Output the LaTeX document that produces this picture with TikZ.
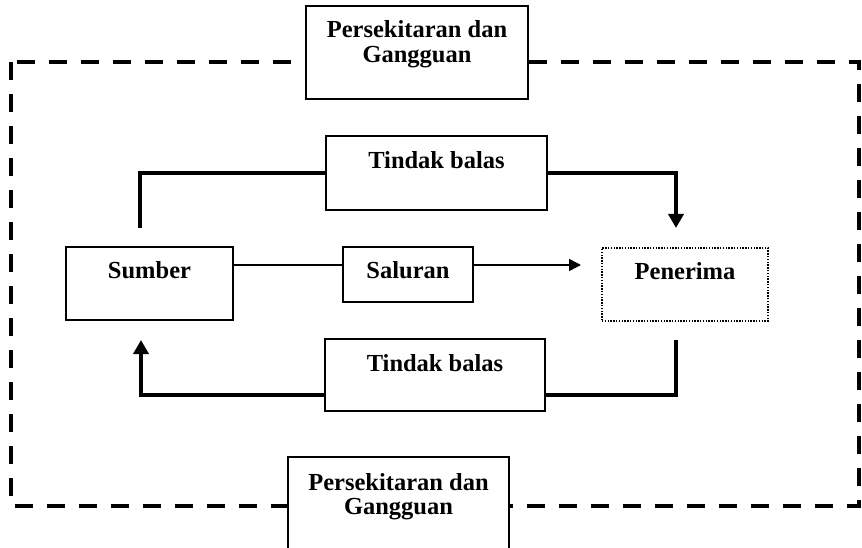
\documentclass[tikz,border=0pt]{standalone}
\usepackage{fontspec}
\setmainfont{Liberation Serif}
\usetikzlibrary{arrows.meta}
\begin{document}
\begin{tikzpicture}[x=1pt,y=-1pt,
  box/.style={draw=black,line width=1.4pt,fill=white,rectangle,inner sep=0pt},
  dotbox/.style={draw=black,line width=1.2pt,dash pattern=on 1.4pt off 1.4pt,fill=white,rectangle,inner sep=0pt},
  lbl/.style={anchor=base,inner sep=0pt,font=\fontsize{24.5}{27}\selectfont\bfseries},
  thickline/.style={line width=4pt,line join=miter},
  thinline/.style={line width=1.6pt},
  bigtip/.style={-{Triangle[length=14pt,width=15pt]}},
  smalltip/.style={-{Triangle[length=12pt,width=12pt]}},
  envline/.style={line width=4pt,dash pattern=on 18pt off 14pt}]
\useasboundingbox (0,0) rectangle (862,548);
% dashed environment boundary
\draw[envline] (11,62) rectangle (859,506);
% boxes
\node[box,minimum width=222pt,minimum height=93pt] (envtop) at (417,52.5) {};
\node[box,minimum width=221pt,minimum height=100pt] (envbot) at (398.5,507) {};
\node[box,minimum width=221pt,minimum height=74pt] (tb1) at (436.5,173) {};
\node[box,minimum width=220pt,minimum height=72pt] (tb2) at (435,375) {};
\node[box,minimum width=167pt,minimum height=73pt] (src) at (149.5,283.5) {};
\node[box,minimum width=130pt,minimum height=55pt] (chan) at (408,274.5) {};
\node[dotbox,minimum width=166pt,minimum height=73pt] (rcv) at (685,284.5) {};
% texts
\node[lbl] (envtopa) at (417,38) {Persekitaran dan};
\node[lbl] (envtopb) at (417,63) {Gangguan};
\node[lbl] (envbota) at (398.5,490) {Persekitaran dan};
\node[lbl] (envbotb) at (398.5,514) {Gangguan};
\node[lbl] (tb1t) at (436.5,169) {Tindak balas};
\node[lbl] (tb2t) at (435,371) {Tindak balas};
\node[lbl] (srct) at (149.5,278) {Sumber};
\node[lbl] (chant) at (408,278) {Saluran};
\node[lbl] (rcvt) at (685,279) {Penerima};
% connector coordinates
\coordinate (tlend) at (140,228);
\coordinate (trend) at (676,228);
\coordinate (blstart) at (325,395);
\coordinate (blend) at (141,340);
\coordinate (brstart) at (676,340);
\coordinate (brend) at (545,395);
\coordinate (chanend) at (581,265);
\coordinate (srcout) at (233,265);
\coordinate (chanin) at (343,265);
\coordinate (chanout) at (473,265);
% connectors
\draw[thickline] (tb1.west) -| (tlend);
\draw[thickline,bigtip] (tb1.east) -| (trend);
\draw[thickline,bigtip] (blstart) -| (blend);
\draw[thickline] (brstart) |- (brend);
\draw[thinline] (srcout) -- (chanin);
\draw[thinline,smalltip] (chanout) -- (chanend);
\end{tikzpicture}
\end{document}
